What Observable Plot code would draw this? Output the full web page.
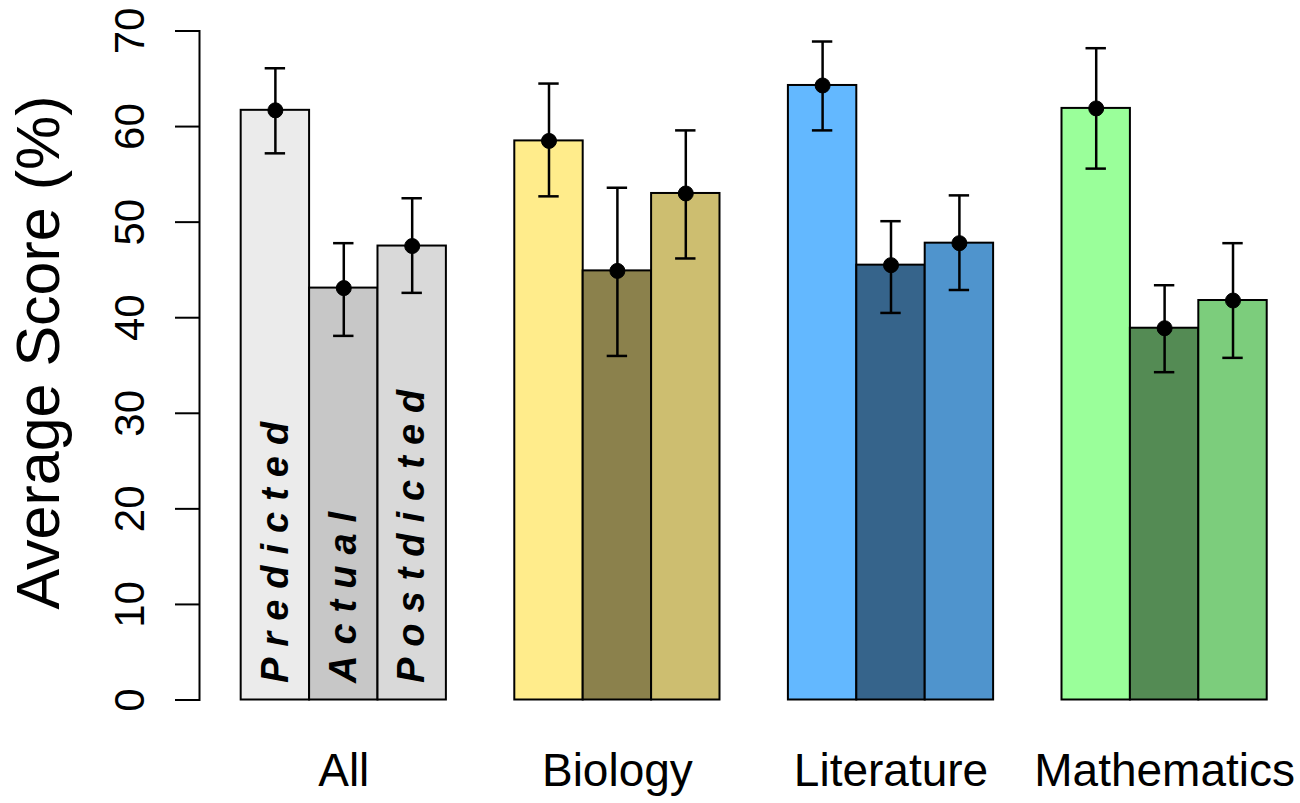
<!DOCTYPE html>
<html>
<head>
<meta charset="utf-8">
<script src="https://cdn.jsdelivr.net/npm/d3@7"></script>
<script src="https://cdn.jsdelivr.net/npm/@observablehq/plot@0.6"></script>
<style>
  html, body { margin: 0; padding: 0; background: #fff; }
  #chart svg { display: block; }
</style>
</head>
<body>
<div id="chart"></div>
<script>
// ---- data ----
const groups = ["All", "Biology", "Literature", "Mathematics"];
const conditions = ["Predicted", "Actual", "Postdicted"];

const allMeans = [61.7, 43.1, 47.5];
const biologyMeans = [58.5, 44.9, 53.0];
const literatureMeans = [64.3, 45.5, 47.8];
const mathMeans = [61.9, 38.9, 41.8];

const allLower = [57.2, 38.1, 42.6];
const allUpper = [66.1, 47.8, 52.5];
const biologyLower = [52.7, 36.0, 46.2];
const biologyUpper = [64.5, 53.6, 59.6];
const literatureLower = [59.6, 40.5, 42.9];
const literatureUpper = [68.9, 50.1, 52.8];
const mathLower = [55.6, 34.3, 35.8];
const mathUpper = [68.2, 43.4, 47.8];

const allColors = ["#EBEBEB", "#C7C7C7", "#D9D9D9"];
const biologyColors = ["#FFEC8B", "#8B814C", "#CDBE70"];
const literatureColors = ["#63B8FF", "#36648B", "#4F94CD"];
const mathColors = ["#9AFF9A", "#548B54", "#7CCD7C"];

const yTicks = [0, 10, 20, 30, 40, 50, 60, 70];
const yLabel = "Average Score (%)";

// ---- build table ----
const meansByGroup = [allMeans, biologyMeans, literatureMeans, mathMeans];
const lowerByGroup = [allLower, biologyLower, literatureLower, mathLower];
const upperByGroup = [allUpper, biologyUpper, literatureUpper, mathUpper];
const colorsByGroup = [allColors, biologyColors, literatureColors, mathColors];

const keyOf = (g, c) => `${g}|${c}`;
const data = groups.flatMap((g, gi) => conditions.map((c, ci) => ({
  group: g, condition: c, key: keyOf(g, c),
  mean: meansByGroup[gi][ci], lo: lowerByGroup[gi][ci], hi: upperByGroup[gi][ci],
  color: colorsByGroup[gi][ci]
})));
// band domain with one empty slot between groups
const xDomain = groups.flatMap((g, gi) => [
  ...(gi ? [`gap${gi}`] : []),
  ...conditions.map(c => keyOf(g, c))
]);
const groupLabels = groups.map(g => ({group: g, key: keyOf(g, conditions[1])}));
const condLabels = data.filter(d => d.group === groups[0]);

const font = '"Liberation Sans", Arial, Helvetica, sans-serif';

const chart = Plot.plot({
  width: 1300,
  height: 803,
  marginLeft: 199,
  marginRight: 0,
  marginTop: 30.5,
  marginBottom: 103.5,
  style: {fontFamily: font, background: "#fff", color: "#000"},
  x: {domain: xDomain, paddingInner: 0, paddingOuter: 0.548, align: 0.556, round: false, axis: null},
  y: {domain: [0, 70], axis: null},
  color: {type: "identity"},
  marks: [
    Plot.barY(data, {x: "key", y: "mean", fill: "color", stroke: "#000", strokeWidth: 2}),
    Plot.ruleX(data, {x: "key", y1: "lo", y2: "hi", stroke: "#000", strokeWidth: 2.5}),
    Plot.tickY(data, {x: "key", y: "lo", inset: 24, stroke: "#000", strokeWidth: 2.5}),
    Plot.tickY(data, {x: "key", y: "hi", inset: 24, stroke: "#000", strokeWidth: 2.5}),
    Plot.dot(data, {x: "key", y: "mean", r: 7.5, fill: "#000", stroke: "#000", strokeWidth: 1}),
    // y axis: line, ticks, labels, title
    Plot.frame({anchor: "left", stroke: "#000", strokeWidth: 2}),
    Plot.axisY({ticks: yTicks, tickSize: 24, tickFormat: () => "", stroke: "#000", strokeWidth: 2}),
    Plot.text(yTicks, {y: d => d, text: d => String(d), frameAnchor: "left", dx: -69,
      rotate: -90, textAnchor: "middle", lineAnchor: "middle", fontSize: 42, fill: "#000"}),
    Plot.text([yLabel], {text: d => d, frameAnchor: "left", dx: -160, dy: -13,
      rotate: -90, textAnchor: "middle", lineAnchor: "middle", fontSize: 61, fill: "#000"}),
    // group labels
    Plot.text(groupLabels, {x: "key", y: 0, text: "group", dy: 71, lineAnchor: "middle",
      textAnchor: "middle", fontSize: 46, fill: "#000"}),
    // condition labels inside the "All" bars
    Plot.text(condLabels, {x: "key", y: 0, text: "condition", dy: -17, rotate: -90,
      textAnchor: "start", lineAnchor: "middle", fontSize: 38, fontWeight: "bold",
      fontStyle: "italic", fill: "#000"})
  ]
});
d3.select(chart).selectAll('g[font-style="italic"] text').style("letter-spacing", "11px");
document.getElementById("chart").appendChild(chart);
</script>
</body>
</html>
